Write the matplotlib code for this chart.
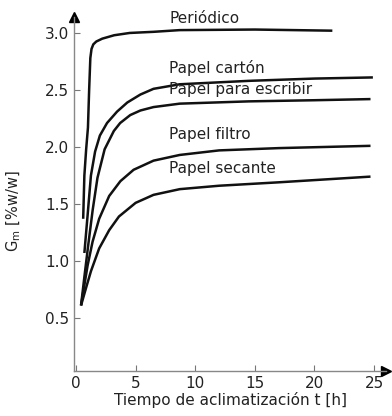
import matplotlib as mpl
mpl.use('Agg')
import matplotlib.pyplot as plt

# values (t in h, Gm in %w/w)
periodico_t = [0.6, 0.7, 0.85, 1.0, 1.1, 1.2, 1.3, 1.45, 1.7, 2.2, 3.2, 4.5, 6.5, 8.7, 15.0, 21.5]
periodico_g = [1.37, 1.75, 1.98, 2.17, 2.5, 2.78, 2.86, 2.9, 2.925, 2.95, 2.98, 3.0, 3.01, 3.025, 3.03, 3.02]

carton_t = [0.7, 0.97, 1.25, 1.6, 2.0, 2.6, 3.44, 4.3, 5.4, 6.5, 8.7, 14.5, 20.0, 24.9]
carton_g = [1.07, 1.40, 1.75, 1.96, 2.1, 2.21, 2.31, 2.39, 2.46, 2.51, 2.55, 2.58, 2.60, 2.61]

escribir_t = [0.42, 0.7, 1.0, 1.4, 1.8, 2.4, 3.17, 3.7, 4.55, 5.4, 6.5, 8.7, 14.5, 20.0, 24.7]
escribir_g = [0.61, 0.86, 1.12, 1.45, 1.73, 1.98, 2.14, 2.21, 2.28, 2.32, 2.35, 2.38, 2.40, 2.41, 2.42]

filtro_t = [0.42, 0.97, 1.39, 1.94, 2.78, 3.72, 4.83, 6.5, 8.7, 12.0, 17.0, 24.7]
filtro_g = [0.61, 0.96, 1.17, 1.37, 1.57, 1.70, 1.80, 1.88, 1.93, 1.97, 1.99, 2.01]

secante_t = [0.42, 0.83, 1.25, 1.94, 2.78, 3.6, 5.0, 6.5, 8.7, 12.0, 17.0, 24.7]
secante_g = [0.61, 0.76, 0.91, 1.11, 1.27, 1.39, 1.51, 1.58, 1.63, 1.66, 1.69, 1.74]

names = ['Periódico', 'Papel cartón', 'Papel para escribir', 'Papel filtro', 'Papel secante']
name_y = [3.13, 2.69, 2.50, 2.11, 1.81]

xticks = [0, 5, 10, 15, 20, 25]
yticks = [0.5, 1.0, 1.5, 2.0, 2.5, 3.0]

plt.rcParams['font.family'] = ['DejaVu Sans']

fig = plt.figure(figsize=(3.92, 4.16), dpi=100)
ax = fig.add_axes([74 / 392, 45 / 416, 312 / 392, 354 / 416])

curves = [(periodico_t, periodico_g), (carton_t, carton_g), (escribir_t, escribir_g),
          (filtro_t, filtro_g), (secante_t, secante_g)]
for t, g in curves:
    ax.plot(t, g, color='#111111', lw=1.8, solid_capstyle='butt', solid_joinstyle='round')

for name, y in zip(names, name_y):
    ax.text(7.8, y, name, fontsize=11, color='#222222', va='center', ha='left')

ax.set_xlim(-0.17, 26.0)
ax.set_ylim(0.035, 3.14)
ax.set_xticks(xticks)
ax.set_yticks(yticks)
ax.set_xticklabels([str(v) for v in xticks])
ax.set_yticklabels(['%.1f' % v for v in yticks])
ax.tick_params(direction='in', length=4, width=0.8, color='#777777',
               labelsize=11, labelcolor='#222222')

for s in ['top', 'right']:
    ax.spines[s].set_visible(False)
for s in ['left', 'bottom']:
    ax.spines[s].set_color('#888888')
    ax.spines[s].set_linewidth(1.0)

# arrow heads at the end of the axes
ax.plot(1, 0, '>', color='k', ms=7, transform=ax.transAxes, clip_on=False)
ax.plot(0, 1, '^', color='k', ms=7, transform=ax.transAxes, clip_on=False)

ax.set_xlabel('Tiempo de aclimatización t [h]', fontsize=11, color='#222222', labelpad=1)
ax.set_ylabel('G$_\\mathrm{m}$ [%w/w]', fontsize=10.5, color='#222222')
ax.yaxis.set_label_coords(-0.163, 0.45)

fig.savefig('out.png', dpi=100)
